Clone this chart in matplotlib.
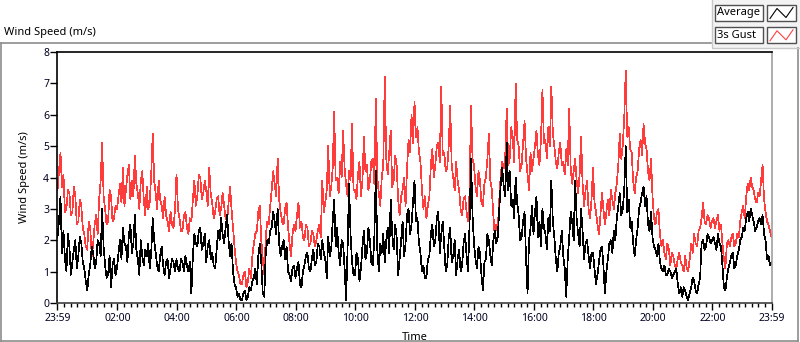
import matplotlib
matplotlib.use("Agg")
import matplotlib.pyplot as plt
import numpy as np
from matplotlib.ticker import FixedLocator
from matplotlib.patches import Rectangle

# sample every 3 minutes, starting at 23:59 of the previous day
step_min = 3

# 3 s gust (m/s), one row per hour
gust = [
    3.6, 4.2, 4.8, 3.7, 4.1, 2.9, 3.0, 3.6, 3.5, 2.8, 2.9, 3.7, 3.4, 2.5, 2.6, 3.3, 3.1, 2.4, 2.2, 1.8,
    1.7, 2.6, 2.4, 1.5, 1.9, 2.5, 2.8, 2.2, 3.3, 3.9, 5.1, 3.4, 3.0, 2.5, 2.6, 3.6, 3.4, 2.6, 2.7, 3.1,
    3.0, 3.4, 3.8, 3.2, 4.3, 3.1, 3.6, 4.1, 4.4, 3.3, 3.9, 3.4, 4.7, 3.8, 3.5, 3.0, 3.9, 4.2, 3.3, 2.8,
    3.7, 3.0, 3.2, 4.1, 5.4, 3.9, 3.5, 3.0, 3.9, 3.3, 3.1, 2.7, 3.4, 2.8, 2.6, 2.3, 2.9, 2.5, 2.4, 3.0,
    4.1, 3.0, 2.7, 2.3, 2.3, 2.8, 2.9, 2.4, 2.2, 2.7, 2.6, 3.3, 3.9, 3.1, 3.4, 4.1, 4.0, 3.3, 3.5, 3.9,
    3.6, 3.1, 4.3, 3.5, 3.2, 2.7, 2.9, 3.3, 3.4, 2.8, 3.0, 3.5, 3.1, 2.7, 2.6, 3.2, 3.7, 3.0, 2.4, 1.8,
    1.3, 1.0, 0.9, 0.6, 0.6, 0.9, 1.0, 0.5, 0.7, 1.1, 0.8, 1.5, 1.9, 2.2, 2.3, 2.9, 3.1, 2.0, 1.4, 0.9,
    2.1, 2.6, 2.5, 3.1, 3.6, 4.2, 3.8, 3.4, 4.6, 3.3, 2.9, 2.6, 2.5, 3.0, 3.2, 2.4, 1.9, 1.5, 2.2, 2.5,
    2.3, 2.8, 3.2, 2.4, 2.6, 2.1, 2.0, 2.5, 2.4, 1.8, 1.9, 2.3, 2.2, 1.8, 2.0, 2.3, 2.5, 2.1, 3.9, 2.9,
    3.2, 3.6, 5.0, 3.4, 3.7, 4.3, 6.1, 3.9, 4.0, 3.5, 4.5, 4.0, 5.5, 4.3, 3.8, 3.4, 4.2, 3.9, 5.7, 3.6,
    3.6, 3.3, 4.1, 4.5, 3.4, 3.9, 5.3, 4.2, 4.4, 3.6, 3.9, 4.5, 4.6, 3.8, 6.5, 4.0, 3.5, 3.1, 4.0, 4.4,
    7.2, 4.6, 4.1, 4.8, 5.5, 3.7, 3.9, 4.7, 4.4, 3.3, 2.8, 3.4, 3.6, 4.0, 3.1, 4.3, 5.2, 4.8, 6.0, 5.1,
    6.4, 5.3, 5.6, 4.8, 4.5, 3.6, 3.0, 3.4, 2.7, 3.1, 3.4, 4.4, 4.9, 4.0, 4.4, 5.0, 5.1, 4.5, 6.9, 4.7,
    4.8, 4.2, 4.3, 5.0, 6.3, 4.4, 4.0, 3.6, 4.5, 3.9, 3.6, 3.0, 2.8, 3.3, 3.4, 2.9, 2.6, 3.5, 6.3, 4.6,
    4.4, 3.7, 3.4, 4.2, 3.9, 3.2, 3.1, 3.8, 4.0, 4.6, 5.4, 3.9, 3.6, 2.8, 2.1, 2.5, 2.4, 3.3, 4.1, 4.5,
    4.3, 4.7, 6.2, 4.4, 4.6, 5.6, 5.3, 4.5, 7.0, 5.2, 5.0, 4.2, 4.4, 5.1, 5.8, 4.6, 4.1, 3.6, 4.8, 4.2,
    4.6, 5.0, 5.5, 4.7, 4.4, 5.2, 6.8, 5.1, 5.2, 4.6, 5.6, 5.0, 6.9, 5.4, 5.0, 4.5, 4.3, 4.8, 5.1, 4.4,
    4.5, 4.1, 4.9, 4.4, 6.2, 4.3, 3.8, 4.2, 4.6, 3.9, 3.5, 4.1, 5.3, 3.8, 3.1, 3.6, 3.9, 3.0, 2.7, 3.3,
    4.3, 3.2, 2.9, 2.5, 2.2, 2.8, 3.5, 3.0, 2.5, 2.9, 3.3, 2.8, 3.6, 3.3, 3.0, 3.5, 3.8, 4.4, 5.4, 4.6,
    5.0, 5.9, 7.4, 5.3, 5.6, 4.9, 4.8, 3.9, 3.5, 4.0, 4.2, 4.9, 5.2, 4.7, 5.7, 5.1, 4.9, 4.2, 3.9, 4.6,
    3.4, 2.7, 2.5, 2.9, 3.0, 2.2, 1.8, 2.0, 1.6, 1.4, 1.9, 1.7, 1.2, 1.6, 1.5, 1.2, 1.1, 1.4, 1.6, 1.3,
    1.2, 1.0, 1.5, 1.1, 1.0, 1.4, 1.9, 1.6, 2.2, 1.9, 1.8, 2.3, 2.4, 2.7, 3.2, 2.6, 2.5, 2.8, 2.7, 2.4,
    2.6, 2.7, 2.4, 2.6, 2.8, 2.3, 2.5, 1.9, 1.4, 1.1, 1.9, 2.0, 1.8, 2.1, 2.2, 1.8, 1.9, 2.2, 2.1, 2.6,
    2.9, 3.1, 2.7, 3.4, 3.8, 3.6, 4.0, 3.7, 3.6, 3.3, 3.2, 3.5, 3.4, 3.9, 4.4, 3.3, 2.9, 2.6, 2.5, 2.3,
    2.1,
]

# average (m/s)
average = [
    2.1, 2.6, 3.4, 1.6, 2.3, 1.4, 1.0, 2.2, 1.8, 0.9, 1.3, 1.7, 2.0, 1.1, 1.5, 2.1, 1.9, 1.3, 1.1, 0.7,
    0.4, 0.9, 1.2, 1.8, 1.6, 1.1, 1.3, 2.0, 1.9, 1.5, 3.0, 1.8, 1.2, 0.8, 0.9, 1.5, 0.5, 1.2, 1.4, 0.9,
    1.1, 1.6, 2.0, 1.4, 2.4, 1.9, 1.8, 1.3, 2.2, 2.5, 1.6, 1.9, 2.8, 1.7, 1.4, 0.9, 2.0, 1.5, 1.2, 1.7,
    1.5, 1.9, 1.1, 1.6, 2.7, 2.0, 1.6, 1.2, 1.0, 1.5, 1.8, 1.2, 0.9, 1.3, 1.4, 0.8, 1.1, 1.4, 1.3, 1.0,
    1.4, 1.1, 1.0, 1.4, 1.3, 1.0, 1.5, 1.2, 1.0, 1.3, 0.3, 1.5, 2.2, 1.9, 1.8, 2.3, 2.4, 1.7, 1.9, 2.2,
    1.3, 1.8, 2.0, 1.4, 1.6, 1.2, 1.1, 1.7, 2.3, 2.0, 2.7, 2.2, 1.9, 2.4, 2.8, 2.0, 1.5, 1.9, 1.0, 0.6,
    0.5, 0.2, 0.3, 0.1, 0.1, 0.3, 0.4, 0.1, 0.2, 0.5, 0.4, 0.7, 0.8, 1.1, 0.6, 1.5, 1.9, 1.3, 0.3, 0.2,
    1.6, 2.0, 1.9, 2.3, 2.4, 2.9, 2.6, 2.2, 3.0, 1.9, 1.5, 1.8, 2.0, 1.4, 1.8, 1.0, 0.9, 0.7, 1.1, 1.2,
    0.8, 1.1, 1.3, 0.6, 0.5, 1.0, 1.2, 1.5, 1.6, 1.1, 1.0, 1.4, 1.7, 1.2, 1.3, 1.9, 1.8, 1.4, 2.0, 1.6,
    1.4, 0.8, 2.1, 1.5, 1.7, 2.6, 3.3, 1.8, 2.4, 1.6, 1.2, 2.0, 1.9, 1.1, 0.1, 1.7, 3.8, 2.2, 1.3, 0.9,
    0.9, 1.6, 1.4, 0.7, 1.1, 1.8, 2.3, 1.4, 1.6, 2.4, 2.0, 1.3, 1.2, 2.1, 4.2, 1.7, 1.0, 1.9, 1.6, 2.2,
    1.3, 2.0, 2.4, 1.6, 3.3, 2.2, 1.7, 2.5, 2.1, 0.9, 1.4, 2.0, 2.6, 1.5, 1.9, 2.8, 3.0, 2.2, 2.5, 3.2,
    3.9, 2.6, 2.7, 1.9, 1.6, 1.0, 1.2, 0.8, 0.8, 1.4, 1.5, 2.2, 2.5, 1.8, 2.0, 2.7, 2.9, 1.6, 2.2, 2.6,
    1.8, 1.0, 1.2, 2.1, 2.4, 1.3, 1.5, 2.0, 0.9, 1.4, 1.7, 1.0, 1.2, 1.9, 2.2, 1.5, 1.0, 2.5, 4.6, 2.8,
    1.9, 1.4, 1.1, 1.8, 1.6, 0.9, 0.4, 1.3, 1.4, 2.2, 2.0, 1.5, 1.2, 2.0, 2.3, 1.9, 2.1, 3.0, 3.8, 4.3,
    3.7, 3.4, 5.1, 3.6, 4.2, 3.1, 3.3, 2.7, 4.0, 3.2, 2.8, 2.0, 2.1, 2.6, 2.9, 1.4, 0.3, 2.0, 2.4, 3.1,
    2.2, 2.9, 3.4, 2.1, 2.6, 1.8, 3.0, 2.4, 2.2, 1.7, 2.7, 2.3, 3.9, 2.6, 2.1, 1.4, 1.0, 1.6, 1.8, 2.3,
    1.5, 1.1, 0.2, 1.4, 2.1, 2.9, 2.6, 2.0, 3.9, 2.7, 2.2, 1.8, 3.0, 2.3, 1.4, 1.9, 2.0, 1.5, 1.1, 1.6,
    1.6, 1.1, 0.6, 0.9, 1.3, 1.7, 1.8, 1.2, 0.3, 1.0, 1.4, 1.9, 2.0, 1.6, 2.3, 2.0, 2.7, 3.1, 3.5, 2.8,
    3.0, 3.6, 5.0, 2.9, 3.3, 2.4, 2.6, 1.9, 1.5, 2.0, 2.4, 3.0, 3.2, 3.5, 3.7, 3.1, 3.4, 2.5, 2.3, 2.9,
    2.1, 1.8, 1.7, 1.5, 1.9, 1.3, 1.1, 1.0, 1.2, 0.9, 0.9, 1.1, 1.0, 0.8, 0.9, 1.0, 1.1, 0.6, 0.3, 0.5,
    0.2, 0.5, 0.4, 0.2, 0.1, 0.3, 0.5, 0.8, 0.7, 0.4, 0.3, 0.6, 0.8, 1.9, 2.0, 1.7, 1.8, 2.2, 2.1, 1.9,
    2.0, 2.1, 1.9, 1.7, 2.2, 1.9, 1.8, 1.2, 0.5, 0.4, 0.8, 1.1, 1.3, 1.5, 1.6, 1.1, 1.2, 1.5, 1.7, 2.0,
    2.1, 2.4, 2.3, 2.7, 2.9, 2.6, 3.0, 2.8, 2.6, 2.3, 2.4, 2.6, 2.7, 2.5, 2.8, 2.2, 2.0, 1.4, 1.5, 1.2,
    1.3,
]

tick_labels = ["23:59", "02:00", "04:00", "06:00", "08:00", "10:00", "12:00",
               "14:00", "16:00", "18:00", "20:00", "22:00", "23:59"]
tick_pos = [0] + [1 + 120 * k for k in range(1, 12)] + [1440]

t = np.arange(len(gust)) * step_min

plt.rcParams['font.family'] = ['Noto Sans', 'DejaVu Sans']

fig = plt.figure(figsize=(8, 3.42), dpi=100)
W, H = 800, 342

# panel frame and legend, drawn in pixel space
deco = fig.add_axes([0, 0, 1, 1], zorder=-1)
deco.set_xlim(0, W)
deco.set_ylim(H, 0)
deco.axis("off")
gray = "#8c8c8c"
deco.add_patch(Rectangle((712, 0), 88, 48, facecolor="#f3f3f3", edgecolor="none"))
deco.plot([1, 711], [42.5, 42.5], color=gray, lw=1.2)
deco.plot([1, 1], [42.5, 340.5], color=gray, lw=1.2)
deco.plot([1, 797.5], [340.5, 340.5], color=gray, lw=1.2)
deco.plot([797.5, 797.5], [48, 340.5], color=gray, lw=1.2)
deco.plot([711.5, 711.5, 800], [0, 48, 48], color="#c8c8c8", lw=1.0)
deco.text(4, 32, "Wind Speed (m/s)", fontsize=8, ha="left", va="center", color="black")

legend_items = [("Average", "black"), ("3s Gust", "#ff4040")]
for i, (name, col) in enumerate(legend_items):
    y0 = 4.5 + i * 22.3
    deco.add_patch(Rectangle((715, y0), 47.5, 16.5, facecolor="white",
                             edgecolor="#505050", lw=1.0))
    deco.add_patch(Rectangle((767, y0), 29, 16.5, facecolor="white",
                             edgecolor="#505050", lw=1.0))
    deco.text(717, y0 + 8.5, name, fontsize=8, ha="left", va="center", color="black")
    deco.plot([770, 777, 786, 793], [y0 + 14, y0 + 4, y0 + 13, y0 + 3], color=col, lw=0.8)

left, right, top, bottom = 57.5, 771.5, 52, 303
ax = fig.add_axes([left / W, 1 - bottom / H, (right - left) / W, (bottom - top) / H])

ax.plot(t, gust, color="#ff3c3c", lw=0.5, antialiased=False)
ax.plot(t, average, color="black", lw=0.5, antialiased=False)

ax.set_xlim(0, 1440)
ax.set_ylim(0, 8)
ax.set_xticks(tick_pos)
ax.set_xticklabels(tick_labels)
minor = []
for k in range(12):
    minor += list(np.linspace(tick_pos[k], tick_pos[k + 1], 10)[1:-1])
ax.xaxis.set_minor_locator(FixedLocator(minor))
ax.set_yticks(range(9))

ax.tick_params(axis="both", which="major", length=5, width=1, labelsize=7.5,
               colors="black", labelcolor="#000020")
ax.tick_params(axis="x", which="minor", length=3, width=1, color="black")
ax.tick_params(axis="x", pad=2)
ax.tick_params(axis="y", pad=1)

for s in ("left", "top"):
    ax.spines[s].set_color("black")
ax.spines["right"].set_color("#a0a0a0")
ax.spines["bottom"].set_color("#404040")
for s in ax.spines.values():
    s.set_linewidth(1.2)

ax.set_ylabel("Wind Speed (m/s)", fontsize=8)
ax.yaxis.set_label_coords(-0.038, 0.5)
ax.set_xlabel("Time", fontsize=8)
ax.xaxis.set_label_coords(0.5, -0.115)

fig.savefig("out.png", dpi=100)
